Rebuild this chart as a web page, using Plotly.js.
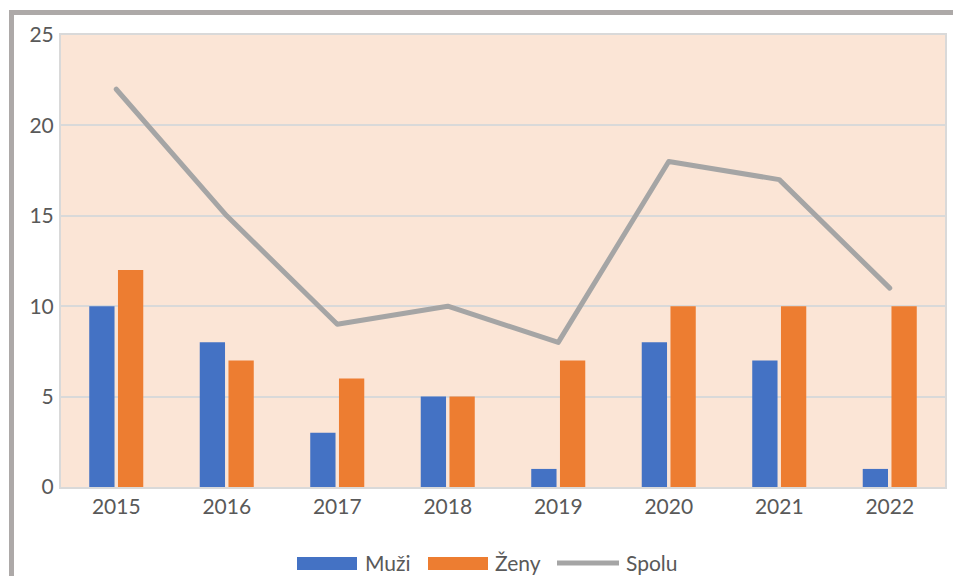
<!DOCTYPE html>
<html><head><meta charset="utf-8">
<script src="https://cdn.plot.ly/plotly-3.0.1.min.js"></script>
<style>
html,body{margin:0;padding:0;background:#fff;}
#wrap{position:relative;width:953px;height:576px;overflow:hidden;}
#chart{width:953px;height:576px;}
.bar{position:absolute;background:#ADA9A8;z-index:10;}
.scatterlayer path.js-line{stroke-linecap:round;stroke-linejoin:round;}
</style></head>
<body>
<div id="wrap">
<div id="chart"></div>
<div class="bar" style="left:9px;top:10px;width:944px;height:5px;"></div>
<div class="bar" style="left:9px;top:10px;width:5px;height:566px;"></div>
</div>
<script>
const years = ['2015','2016','2017','2018','2019','2020','2021','2022'];
const muzi = [10, 8, 3, 5, 1, 8, 7, 1];
const zeny = [12, 7, 6, 5, 7, 10, 10, 10];
const spolu = [22, 15, 9, 10, 8, 18, 17, 11];
const names = ['Muži', 'Ženy', 'Spolu'];
const colors = ['#4472C4', '#ED7D31', '#A5A5A5'];

const font = {family: 'Lato, "Noto Sans", sans-serif', size: 21, color: '#595959'};
const data = [
  {type:'bar', name:names[0], x:years, y:muzi, marker:{color:colors[0]}},
  {type:'bar', name:names[1], x:years, y:zeny, marker:{color:colors[1]}},
  {type:'scatter', mode:'lines', name:names[2], x:years, y:spolu, line:{color:colors[2], width:5}}
];

// manual legend (wide swatches like the original)
const L = 61, W = 884, B = 487, H = 452;
const px = v => (v - L) / W, py = v => (B - v) / H;
const shapes = [
  {type:'rect', xref:'paper', yref:'paper', x0:px(297), x1:px(357), y0:py(570), y1:py(557), fillcolor:colors[0], line:{width:0}},
  {type:'rect', xref:'paper', yref:'paper', x0:px(428), x1:px(488), y0:py(570), y1:py(557), fillcolor:colors[1], line:{width:0}},
  {type:'line', xref:'paper', yref:'paper', x0:px(557), x1:px(619), y0:py(563), y1:py(563), line:{color:colors[2], width:5}}
];
const annotations = [
  {text:names[0], x:px(363), xanchor:'left'},
  {text:names[1], x:px(493), xanchor:'left'},
  {text:names[2], x:px(624), xanchor:'left'}
].map(a => Object.assign(a, {xref:'paper', yref:'paper', y:py(562), yanchor:'middle', showarrow:false, font:font}));

const layout = {
  width:953, height:576,
  margin:{l:61, r:8, t:35, b:89, autoexpand:false},
  paper_bgcolor:'#ffffff', plot_bgcolor:'#FBE5D6',
  font: font,
  barmode:'group', bargap:0.48, bargroupgap:0.12,
  showlegend:false,
  shapes: shapes, annotations: annotations,
  xaxis:{type:'category', showgrid:false, showline:true, linecolor:'#D9D9D9', linewidth:2, mirror:true, ticks:'', ticklen:0, tickfont:font, ticklabelstandoff:0},
  yaxis:{range:[0,25], dtick:5, showgrid:true, gridcolor:'#D9D9D9', gridwidth:2, zeroline:false, showline:true, linecolor:'#D9D9D9', linewidth:2, mirror:true, ticks:'', ticklen:0, tickfont:font, ticklabelstandoff:1}
};
Plotly.newPlot('chart', data, layout, {displayModeBar:false, staticPlot:true});
</script>
</body></html>
